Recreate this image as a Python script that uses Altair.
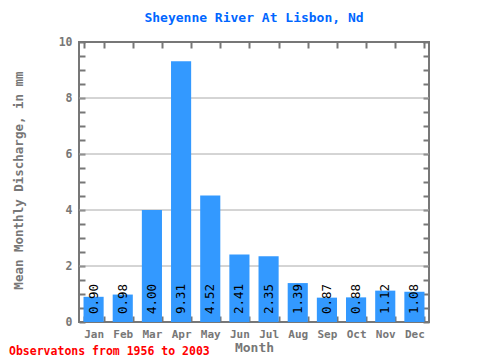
import altair as alt
import pandas as pd

months = ["Jan", "Feb", "Mar", "Apr", "May", "Jun", "Jul", "Aug", "Sep", "Oct", "Nov", "Dec"]
values = [0.90, 0.98, 4.00, 9.31, 4.52, 2.41, 2.35, 1.39, 0.87, 0.88, 1.12, 1.08]
y_ticks = [i * 0.5 for i in range(21)]
grid_vals = [2, 4, 6, 8]

FONT = "DejaVu Sans Mono"
GRAY = "#777777"

df = pd.DataFrame({"month": months, "value": values, "label": [f"{v:.2f}" for v in values]})
grid_df = pd.DataFrame({"v": grid_vals})

yscale = alt.Scale(domain=[0, 10], nice=False, zero=True)
xscale = alt.Scale(domain=months, paddingInner=0.31, paddingOuter=0.155)

left_axis = alt.Axis(
    values=y_ticks, labelExpr="datum.value % 2 == 0 ? format(datum.value, 'd') : ''",
    offset=-6, tickSize=6, tickWidth=2, tickColor=GRAY, domain=False, grid=False,
    labelPadding=7, labelFont=FONT, labelFontSize=11.5, labelFontWeight="bold", labelColor=GRAY,
    labelOverlap=False,
    title="Mean Monthly Discharge, in mm", titleFont=FONT, titleFontSize=12.5, titleFontWeight="bold",
    titleColor=GRAY, titleX=-67, titleY=138, titleAlign="center", titleBaseline="middle", titleAngle=-90,
)
right_axis = alt.Axis(
    orient="right", values=y_ticks, labels=False, offset=-6, tickSize=6, tickWidth=2,
    tickColor=GRAY, domain=False, grid=False, title=None,
)
bottom_axis = alt.Axis(
    orient="bottom", offset=-6, tickBand="extent", tickSize=6, tickWidth=2, tickColor=GRAY,
    domain=False, grid=False, labelAngle=0, labelPadding=6, labelFont=FONT, labelFontSize=11,
    labelFontWeight="bold", labelColor=GRAY,
    title="Month", titleFont=FONT, titleFontSize=13, titleFontWeight="bold", titleColor=GRAY,
    titlePadding=2,
)
top_axis = alt.Axis(
    orient="top", offset=-6, tickBand="extent", tickSize=6, tickWidth=2, tickColor=GRAY,
    domain=False, grid=False, labels=False, title=None,
)

grid = alt.Chart(grid_df).mark_rule(color="#aaaaaa", strokeWidth=1).encode(
    y=alt.Y("v:Q", scale=yscale, axis=right_axis)
)

bars = alt.Chart(df).mark_bar(color="#3399ff").encode(
    x=alt.X("month:N", sort=months, scale=xscale, axis=bottom_axis),
    y=alt.Y("value:Q", scale=yscale, axis=left_axis),
)

labels = alt.Chart(df).mark_text(
    angle=270, align="left", baseline="middle", dx=8, font=FONT, fontSize=12.5, color="black"
).encode(
    x=alt.X("month:N", sort=months, scale=xscale, axis=top_axis),
    y=alt.YDatum(0, scale=yscale, axis=None),
    text="label:N",
)

footer = alt.Chart(pd.DataFrame({"t": ["Observatons from 1956 to 2003"]})).mark_text(
    align="left", baseline="middle", font=FONT, fontSize=11.5, fontWeight="bold", color="#ff0000"
).encode(x=alt.value(-70), y=alt.value(310), text="t:N")

chart = (
    alt.layer(grid, bars, labels, footer)
    .resolve_axis(x="independent", y="independent")
    .properties(
        width=350, height=280,
        autosize=alt.AutoSizeParams(type="none"),
        padding={"left": 71, "top": 34, "right": 43, "bottom": 36},
        title=alt.TitleParams(
            "Sheyenne River At Lisbon, Nd", font=FONT, fontSize=13, fontWeight="bold",
            color="#0066ff", anchor="middle", offset=11,
        ),
    )
    .configure_view(stroke=GRAY, strokeWidth=2)
)

chart.save("out.html", embed_options={"renderer": "svg", "actions": False})
